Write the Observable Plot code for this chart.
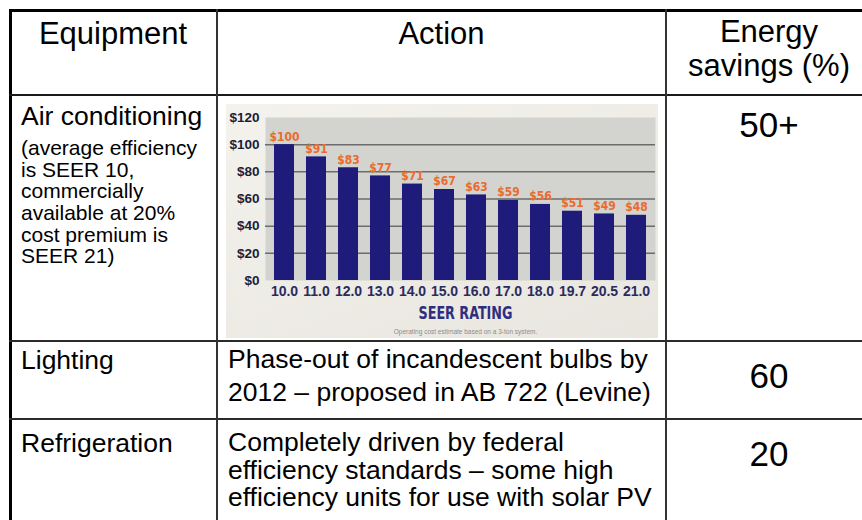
<!DOCTYPE html>
<html><head><meta charset="utf-8">
<script src="https://cdn.jsdelivr.net/npm/d3@7"></script>
<script src="https://cdn.jsdelivr.net/npm/@observablehq/plot@0.6"></script>
<style>
html,body{margin:0;padding:0;background:#fff;width:862px;height:520px;overflow:hidden;}
#page{position:relative;width:862px;height:520px;font-family:"Liberation Sans",Arial,Helvetica,sans-serif;color:#000;}
.t{position:absolute;white-space:nowrap;}
.ln{position:absolute;background:#2b2b2b;}
#chart{position:absolute;left:226px;top:104px;width:432px;height:234px;}
</style></head><body><div id="page"><div id="chart"></div></div>
<script>
// ---- data ----
const seerRatings = ["10.0","11.0","12.0","13.0","14.0","15.0","16.0","17.0","18.0","19.7","20.5","21.0"];
const costs = [100, 91, 83, 77, 71, 67, 63, 59, 56, 51, 49, 48];
const yTicks = [0, 20, 40, 60, 80, 100, 120];
const gridValues = [20, 40, 60, 80, 100];
const chartTitle = "SEER RATING";
const chartNote = "Operating cost estimate based on a 3-ton system.";
const headers = [["Equipment"], ["Action"], ["Energy", "savings (%)"]];
const equipment = ["Air conditioning", "Lighting", "Refrigeration"];
const acNote = ["(average efficiency", "is SEER 10,", "commercially", "available at 20%", "cost premium is", "SEER 21)"];
const lightingAction = ["Phase-out of incandescent bulbs by", "2012 \u2013 proposed in AB 722 (Levine)"];
const refrigerationAction = ["Completely driven by federal", "efficiency standards \u2013 some high", "efficiency units for use with solar PV"];
const savings = ["50+", "60", "20"];

// ---- table layout ----
const page = document.getElementById("page");
function line(l, t, w, h, c) {
  const d = document.createElement("div");
  d.className = "ln";
  Object.assign(d.style, {left: l + "px", top: t + "px", width: w + "px", height: h + "px"});
  if (c) d.style.background = c;
  page.appendChild(d);
}
function text(lines, x, baseline, F, L, align) {
  const d = document.createElement("div");
  d.className = "t";
  d.innerHTML = lines.map(s => s.replace(/&/g, "&amp;").replace(/</g, "&lt;")).join("<br>");
  const top = baseline - L / 2 - 0.3465 * F;
  Object.assign(d.style, {fontSize: F + "px", lineHeight: L + "px", top: top + "px"});
  if (align === "center") {
    Object.assign(d.style, {left: (x - 250) + "px", width: "500px", textAlign: "center"});
  } else {
    d.style.left = x + "px";
  }
  page.appendChild(d);
}
// borders
line(9, 9, 853, 3, "#000");
line(9, 9, 3, 511, "#000");
line(9, 94, 853, 2, "#1a1a1a");
line(9, 340, 853, 2, "#2b2b2b");
line(9, 418, 853, 2, "#2b2b2b");
line(216, 9, 2, 511, "#333");
line(665, 9, 2, 511, "#333");

// header
text(headers[0], 113, 45, 31, 34, "center");
text(headers[1], 441.5, 45, 31, 34, "center");
text(headers[2], 769, 43, 31, 34, "center");

// column 1
text([equipment[0]], 21, 125, 26.5, 30);
text(acNote, 21, 155, 21, 21.7);
text([equipment[1]], 21, 369, 26.5, 30);
text([equipment[2]], 21, 452, 26.5, 30);

// column 2
text(lightingAction, 228, 369, 26.5, 33);
text(refrigerationAction, 228, 452, 26.5, 27.5);

// column 3
text([savings[0]], 769, 137, 35, 38, "center");
text([savings[1]], 769, 388, 35, 38, "center");
text([savings[2]], 769, 466, 35, 38, "center");

// ---- embedded chart ----
const data = seerRatings.map((s, i) => ({seer: s, cost: costs[i]}));
const boldFont = "'Liberation Sans Narrow','Arial Narrow','DejaVu Sans Condensed','Liberation Sans',Arial,sans-serif";
const chart = Plot.plot({
  width: 432, height: 234,
  marginLeft: 39, marginRight: 3, marginTop: 13, marginBottom: 58,
  style: {background: "linear-gradient(160deg,#f4f2ec,#e8e6df)", fontFamily: "'Liberation Sans',Arial,sans-serif", overflow: "visible"},
  x: {domain: seerRatings, paddingInner: 0.385, paddingOuter: 0.1925, axis: null},
  y: {domain: [0, 120], axis: null},
  marks: [
    Plot.frame({fill: "#d3d3d0", stroke: "none"}),
    Plot.ruleY(gridValues, {stroke: "#6c6c6c", strokeWidth: 1.5}),
    Plot.barY(data, {x: "seer", y: "cost", fill: "#1e1b7b"}),
    Plot.text(data, {x: "seer", y: "cost", text: d => "$" + d.cost, dy: -8, fill: "#ea6b30", fontWeight: "bold", fontSize: 12, fontFamily: boldFont}),
    Plot.axisY(yTicks, {tickFormat: d => "$" + d, tickSize: 0, tickPadding: 6, fontSize: 13.5, fontWeight: "bold", fill: "#1c1c3a", label: null}),
    Plot.axisX({tickSize: 0, tickPadding: 6, fontSize: 14, fontWeight: "bold", fill: "#2b2b5e", label: null}),
    Plot.text([chartTitle], {frameAnchor: "bottom", dx: 5, dy: 38, fontSize: 17, fontWeight: "bold", fill: "#2e2e80", fontFamily: boldFont}),
    Plot.text([chartNote], {frameAnchor: "bottom", dx: 5, dy: 53, fontSize: 6.5, fill: "#8c8c8c"})
  ]
});
document.getElementById("chart").appendChild(chart);
// fit the chart title to the width seen in the reference
chart.querySelectorAll("text").forEach(t => {
  if (t.textContent === chartTitle) {
    t.setAttribute("textLength", "94");
    t.setAttribute("lengthAdjust", "spacingAndGlyphs");
  }
});
</script>
</body></html>
